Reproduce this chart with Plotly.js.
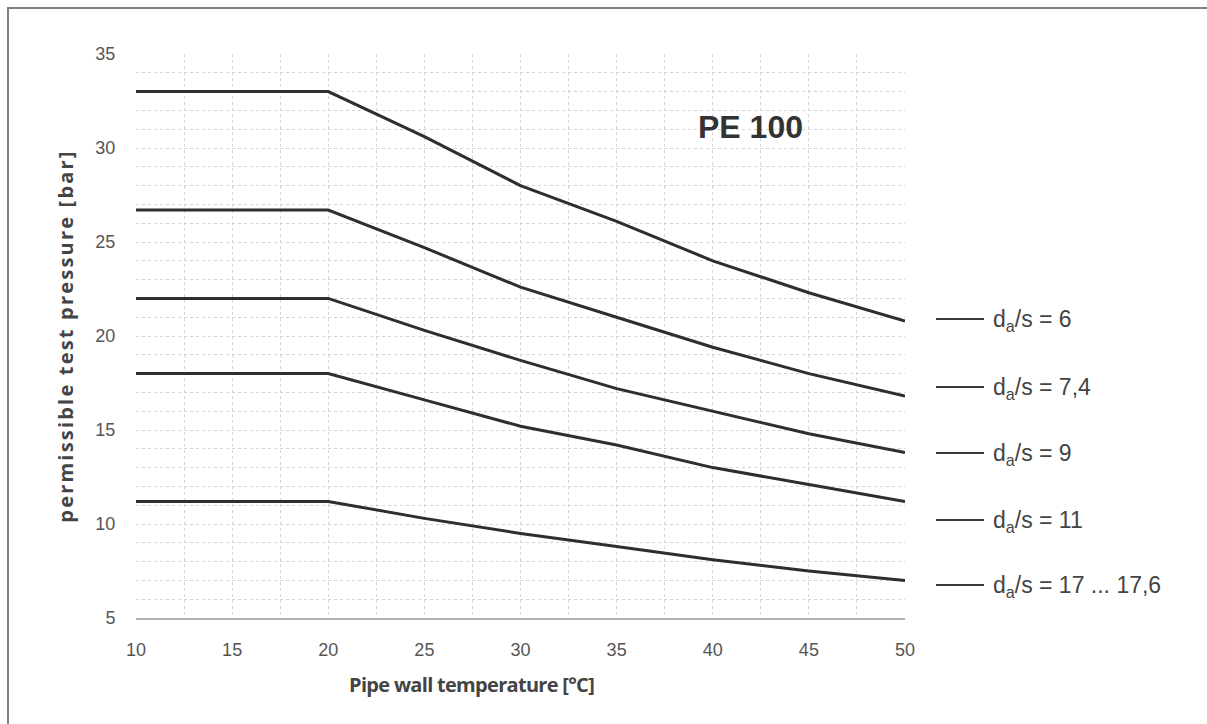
<!DOCTYPE html>
<html>
<head>
<meta charset="utf-8">
<script src="https://cdn.plot.ly/plotly-3.0.1.min.js"></script>
<style>
  html, body { margin: 0; padding: 0; background: #fff; }
  #frame { position: absolute; left: 7px; top: 7px; width: 1200px; height: 717px;
           border-left: 2px solid #808080; border-top: 2px solid #808080; }
  #chart { position: absolute; left: 0; top: 0; width: 1207px; height: 724px; }
  #chart .ytitle { letter-spacing: 2.2px; }
  #chart g.annotation[data-index="6"] text { letter-spacing: -0.7px; }
</style>
</head>
<body>
<div id="frame"></div>
<div id="chart"></div>
<script>
// Pipe wall temperature [°C]
const temperature = [10, 20, 25, 30, 35, 40, 45, 50];

// permissible test pressure [bar] per d_a/s ratio
const p_6    = [33.0, 33.0, 30.6, 28.0, 26.1, 24.0, 22.3, 20.8];
const p_7_4  = [26.7, 26.7, 24.7, 22.6, 21.0, 19.4, 18.0, 16.8];
const p_9    = [22.0, 22.0, 20.3, 18.7, 17.2, 16.0, 14.8, 13.8];
const p_11   = [18.0, 18.0, 16.6, 15.2, 14.2, 13.0, 12.1, 11.2];
const p_17   = [11.2, 11.2, 10.3, 9.5, 8.8, 8.1, 7.5, 7.0];

const seriesNames = ["d<sub>a</sub>/s = 6", "d<sub>a</sub>/s = 7,4", "d<sub>a</sub>/s = 9",
                     "d<sub>a</sub>/s = 11", "d<sub>a</sub>/s = 17 ... 17,6"];
const seriesValues = [p_6, p_7_4, p_9, p_11, p_17];

const xTicks = [10, 15, 20, 25, 30, 35, 40, 45, 50];
const yTicks = [5, 10, 15, 20, 25, 30, 35];

const lineColor = "#2e2e2e";
const traces = seriesValues.map((vals, i) => ({
  x: temperature, y: vals, type: "scatter", mode: "lines", name: seriesNames[i],
  line: { color: lineColor, width: 3 }, showlegend: false, hoverinfo: "x+y"
}));

// label key positions (paper coords, plot area 136..905 x, 54..618 y)
const px = v => (v - 136) / 769;
const py = v => (618 - v) / 564;
const keyRows = [319, 387, 453, 520, 585];

const shapes = keyRows.map(r => ({
  type: "line", xref: "paper", yref: "paper",
  x0: px(936), x1: px(984), y0: py(r), y1: py(r),
  line: { color: "#3a3a3a", width: 2 }
}));

const annotations = keyRows.map((r, i) => ({
  xref: "paper", yref: "paper", x: px(991), y: py(r + 1),
  xanchor: "left", yanchor: "middle", showarrow: false,
  text: seriesNames[i],
  font: { family: "Liberation Sans, Arial, sans-serif", size: 23, color: "#444" }
}));
annotations.push({
  xref: "paper", yref: "paper", x: px(750), y: py(127),
  xanchor: "center", yanchor: "middle", showarrow: false,
  text: "<b>PE 100</b>",
  font: { family: "Liberation Sans, Arial, sans-serif", size: 32, color: "#333" }
});
annotations.push({
  xref: "paper", yref: "paper", x: px(471), y: py(684),
  xanchor: "center", yanchor: "middle", showarrow: false,
  text: "<b>Pipe wall temperature [°C]</b>",
  font: { family: "Open Sans, sans-serif", size: 20, color: "#444" }
});

const gridStyle = { gridcolor: "#d4d4d4", griddash: "dot", gridwidth: 1 };

const layout = {
  width: 1207, height: 724,
  margin: { l: 136, r: 302, t: 54, b: 106 },
  paper_bgcolor: "rgba(0,0,0,0)", plot_bgcolor: "rgba(0,0,0,0)",
  showlegend: false,
  xaxis: {
    range: [10, 50], tickvals: xTicks, ticktext: xTicks.map(String),
    showgrid: true, ...gridStyle,
    minor: { dtick: 2.5, tick0: 10, showgrid: true, ...gridStyle },
    showline: true, linecolor: "#b0b0b0", linewidth: 2,
    zeroline: false, ticks: "outside", ticklen: 14, tickcolor: "rgba(0,0,0,0)",
    tickfont: { family: "Liberation Sans, Arial, sans-serif", size: 18, color: "#555" },
    fixedrange: true
  },
  yaxis: {
    range: [5, 35], tickvals: yTicks, ticktext: yTicks.map(String),
    showgrid: true, ...gridStyle,
    minor: { dtick: 1, tick0: 5, showgrid: true, ...gridStyle },
    showline: false, zeroline: false,
    ticks: "outside", ticklen: 16, tickcolor: "rgba(0,0,0,0)",
    tickfont: { family: "Liberation Sans, Arial, sans-serif", size: 18, color: "#555" },
    title: { text: "<b>permissible test pressure [bar]</b>", standoff: 16,
             font: { family: "Open Sans, sans-serif", size: 20, color: "#444" } },
    fixedrange: true
  },
  shapes: shapes,
  annotations: annotations
};

Plotly.newPlot("chart", traces, layout, { displayModeBar: false, staticPlot: true });
</script>
</body>
</html>
